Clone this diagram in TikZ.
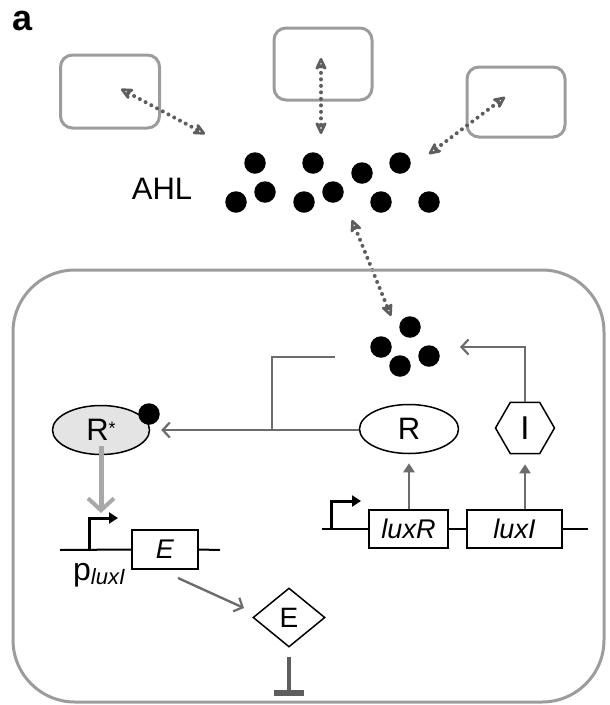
\documentclass[tikz,border=0pt]{standalone}
\usepackage{fontspec}
\setmainfont{Liberation Sans}
\usetikzlibrary{arrows.meta,shapes.geometric}
\definecolor{boxgray}{HTML}{9C9C9C}
\definecolor{linegray}{HTML}{6C6C6C}
\definecolor{thickgray}{HTML}{A8A8A8}
\definecolor{fillgray}{HTML}{E4E4E4}
\definecolor{dotgray}{HTML}{5E5E5E}
\tikzset{
  outerbox/.style={draw=boxgray, line width=3pt, rounded corners=12pt, inner sep=0pt},
  cellbox/.style={draw=boxgray, line width=3pt, rounded corners=62pt, inner sep=0pt, minimum width=591pt, minimum height=432pt},
  ahl/.style={circle, fill=black, inner sep=0pt, minimum size=21.5pt},
  dotarrow/.style={draw=dotgray, line width=4pt, dash pattern=on 0pt off 6.5pt, line cap=round,
    {Stealth[open, length=15pt, width=14pt, inset=4pt, line width=2.6pt, round]}-{Stealth[open, length=15pt, width=14pt, inset=4pt, line width=2.6pt, round]}},
  grayarrow/.style={draw=linegray, line width=2.4pt, -{Straight Barb[length=7pt, width=15pt, line width=2.2pt]}},
  upgray/.style={draw=linegray, line width=2.4pt, -{Triangle[length=9pt, width=11pt]}},
  grayline/.style={draw=linegray, line width=2.4pt},
  protein/.style={draw=black, line width=1.5pt, ellipse, inner sep=0pt, minimum width=99pt, minimum height=49pt, font=\fontsize{31}{31}\selectfont},
  gene/.style={draw=black, line width=1.6pt, rectangle, inner sep=0pt, minimum height=38pt, font=\fontsize{27}{27}\selectfont\itshape},
  dna/.style={draw=black, line width=2pt},
  promoter/.style={draw=black, line width=3pt, -{Triangle[length=9pt, width=11pt]}},
  thickarrow/.style={draw=thickgray, line width=5pt, -{Straight Barb[length=12pt, width=26pt, line width=4pt]}},
  inhib/.style={draw=dotgray, line width=4.5pt, -{Bar[width=30pt, line width=6pt]}},
  lbl/.style={inner sep=0pt}
}
\begin{document}
\begin{tikzpicture}[x=1pt, y=-1pt]
\useasboundingbox (0,0) rectangle (610,705);

% panel letter
\node[lbl, font=\bfseries\fontsize{36}{36}\selectfont] (panel) at (23,21) {a};

% outer cells
\node[outerbox, minimum width=99pt, minimum height=73pt] (boxL) at (110,91.5) {};
\node[outerbox, minimum width=98pt, minimum height=72pt] (boxM) at (323,64) {};
\node[outerbox, minimum width=98pt, minimum height=70pt] (boxR) at (516,102) {};

% AHL cloud
\node[lbl, font=\fontsize{31}{31}\selectfont] (ahltext) at (162,189) {AHL};
\node[ahl] (d1) at (255,163) {};
\node[ahl] (d2) at (313,163) {};
\node[ahl] (d3) at (362,173) {};
\node[ahl] (d4) at (400,163) {};
\node[ahl] (d5) at (236,202) {};
\node[ahl] (d6) at (265,192) {};
\node[ahl] (d7) at (304,202) {};
\node[ahl] (d8) at (333,192) {};
\node[ahl] (d9) at (381,202) {};
\node[ahl] (d10) at (429,202) {};

% dotted exchange arrows
\coordinate (lA) at (121,89);  \coordinate (lB) at (205,134);
\coordinate (mA) at (321,58);  \coordinate (mB) at (321,134);
\coordinate (rA) at (505,97);  \coordinate (rB) at (429,154);
\coordinate (bA) at (352,220); \coordinate (bB) at (391,316);
\draw[dotarrow] (lA) -- (lB);
\draw[dotarrow] (mA) -- (mB);
\draw[dotarrow] (rA) -- (rB);
\draw[dotarrow] (bA) -- (bB);

% cell
\node[cellbox] (cell) at (308.5,486) {};

% inner AHL
\node[ahl] (i1) at (410,327) {};
\node[ahl] (i2) at (381,347) {};
\node[ahl] (i3) at (400,366) {};
\node[ahl] (i4) at (429,356) {};

% proteins
\node[protein, fill=fillgray, minimum width=97pt] (Rstar) at (101,430) {R\raisebox{6pt}{\fontsize{18}{18}\selectfont *}};
\node[ahl] (rdot) at (149,414) {};
\node[protein] (R) at (409,429) {R};
\node[draw=black, line width=1.5pt, regular polygon, regular polygon sides=6, inner sep=0pt, minimum size=59pt, font=\fontsize{33}{33}\selectfont] (I) at (525,428) {I};

% R -> R*, with AHL branch
\coordinate (junc) at (272,430);
\coordinate (bend) at (335,357);
\draw[grayarrow] (R.west |- junc) -- ([xshift=11pt]Rstar.east);
\draw[grayline] (bend) -| (junc);

% I -> AHL
\coordinate (dotsin) at (460,347);
\draw[grayarrow] (I.north) |- (dotsin);

% genes right
\coordinate (rstart) at (322,529);
\coordinate (rend) at (588,529);
\node[gene, minimum width=79pt] (luxR) at (408.5,529) {luxR};
\node[gene, minimum width=95pt] (luxI) at (514.5,529) {luxI};
\draw[dna] (rstart) -- (luxR.west);
\draw[dna] (luxR.east) -- (luxI.west);
\draw[dna] (luxI.east) -- (rend);
\coordinate (pR) at (331,529);
\coordinate (pRtip) at (361,501);
\draw[promoter] (pR) |- (pRtip);
\draw[upgray] (R.south |- luxR.north) -- ([yshift=-9pt]R.south);
\draw[upgray] (I.south |- luxI.north) -- ([yshift=-10pt]I.south);

% thick activation
\draw[thickarrow] ([yshift=9pt]Rstar.south) -- (101,513);

% gene left
\coordinate (lstart) at (60,550);
\coordinate (lend) at (220,550);
\node[gene, minimum width=66pt, minimum height=39pt] (Ebox) at (165,549.5) {E};
\draw[dna] (lstart) -- (Ebox.west);
\draw[dna] (Ebox.east) -- (lend);
\coordinate (pL) at (89.5,550);
\coordinate (pLtip) at (118,518);
\draw[promoter] (pL) |- (pLtip);
\node[lbl, font=\fontsize{32}{32}\selectfont, anchor=base west] (plux) at (73,580) {p\raisebox{-4pt}{\fontsize{22}{22}\selectfont\itshape luxI}};

% E protein
\node[draw=black, line width=1.5pt, diamond, inner sep=0pt, minimum width=72pt, minimum height=59pt, font=\fontsize{28}{28}\selectfont] (Ediam) at (289,617.5) {E};
\coordinate (eFrom) at (178,578);
\coordinate (eTo) at (244,608);
\draw[grayarrow] (eFrom) -- (eTo);

% inhibition
\coordinate (inhA) at (289,657);
\coordinate (inhB) at (289,696);
\draw[inhib] (inhA) -- (inhB);
\end{tikzpicture}
\end{document}
